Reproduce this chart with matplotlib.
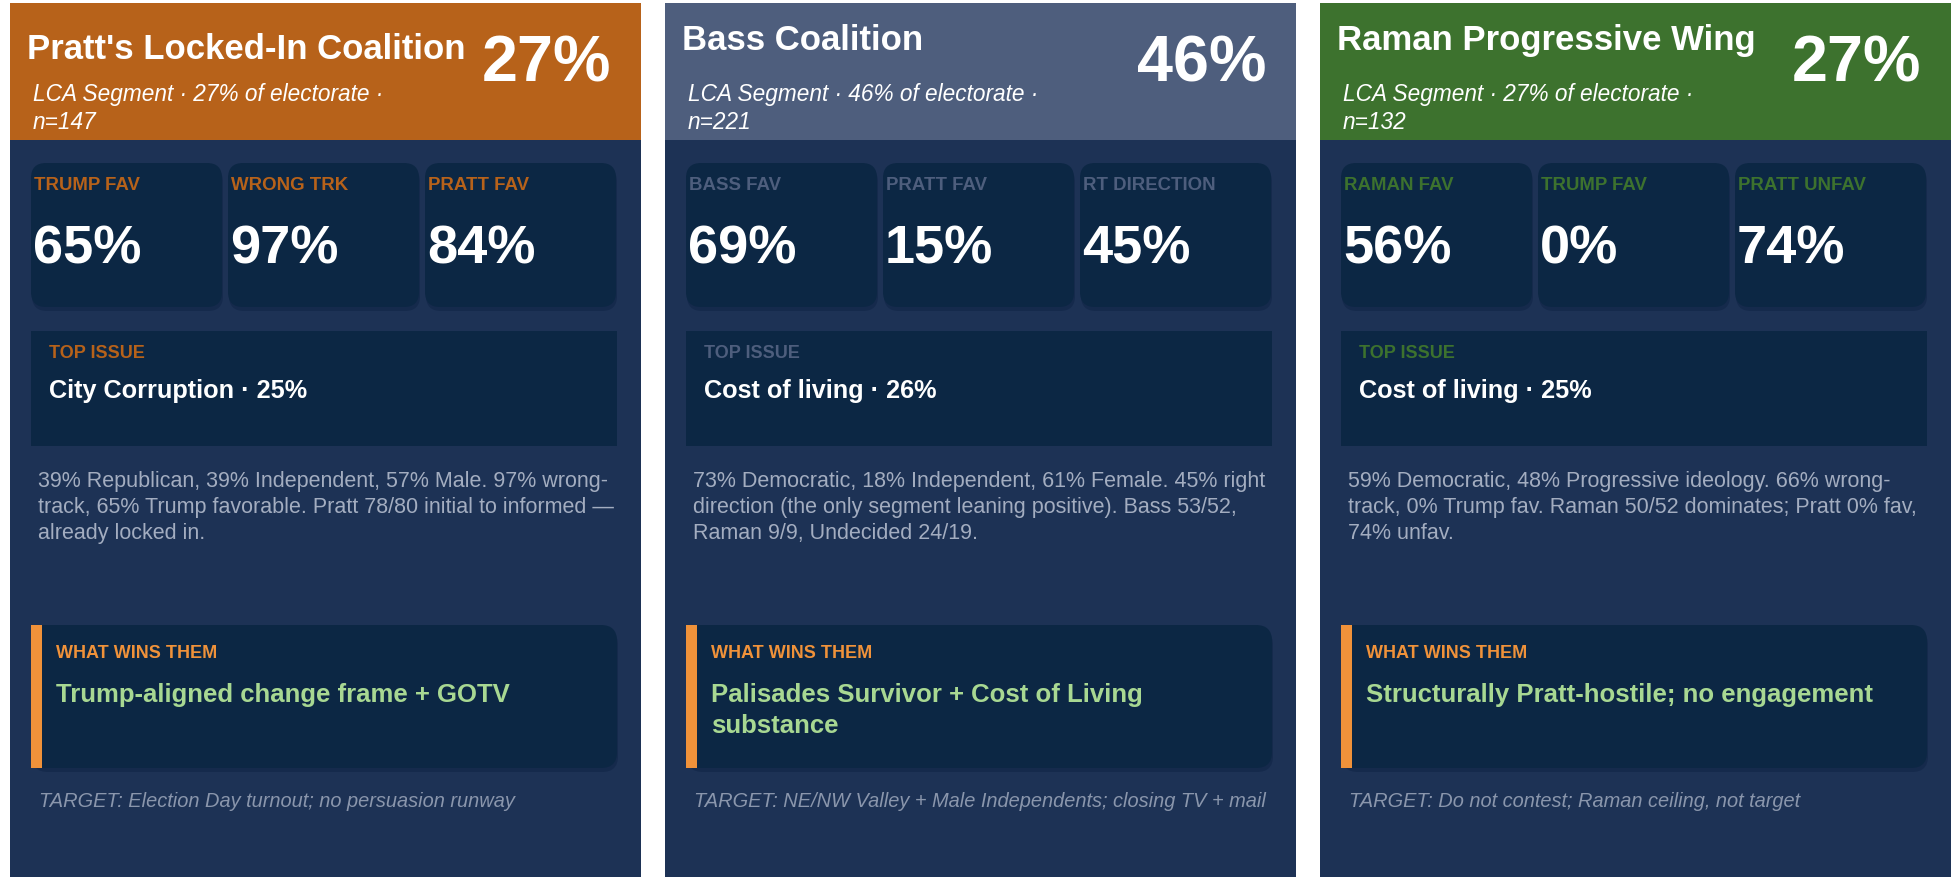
import matplotlib
matplotlib.use('Agg')
import matplotlib.pyplot as plt
from matplotlib.patches import Rectangle, FancyBboxPatch

plt.rcParams['font.family'] = ['Liberation Sans', 'DejaVu Sans']

# ---- data ----
titles = ["Pratt's Locked-In Coalition", "Bass Coalition", "Raman Progressive Wing"]
shares = [27, 46, 27]
sample_n = [147, 221, 132]
metric_labels = [
    ["TRUMP FAV", "WRONG TRK", "PRATT FAV"],
    ["BASS FAV", "PRATT FAV", "RT DIRECTION"],
    ["RAMAN FAV", "TRUMP FAV", "PRATT UNFAV"],
]
metric_values = [
    [65, 97, 84],
    [69, 15, 45],
    [56, 0, 74],
]
top_issues = ["City Corruption", "Cost of living", "Cost of living"]
top_issue_pcts = [25, 26, 25]
descriptions = [
    "39% Republican, 39% Independent, 57% Male. 97% wrong-\n"
    "track, 65% Trump favorable. Pratt 78/80 initial to informed \u2014\n"
    "already locked in.",
    "73% Democratic, 18% Independent, 61% Female. 45% right\n"
    "direction (the only segment leaning positive). Bass 53/52,\n"
    "Raman 9/9, Undecided 24/19.",
    "59% Democratic, 48% Progressive ideology. 66% wrong-\n"
    "track, 0% Trump fav. Raman 50/52 dominates; Pratt 0% fav,\n"
    "74% unfav.",
]
win_messages = [
    "Trump-aligned change frame + GOTV",
    "Palisades Survivor + Cost of Living\nsubstance",
    "Structurally Pratt-hostile; no engagement",
]
targets = [
    "TARGET: Election Day turnout; no persuasion runway",
    "TARGET: NE/NW Valley + Male Independents; closing TV + mail",
    "TARGET: Do not contest; Raman ceiling, not target",
]

# ---- style ----
header_colors = ['#b7621a', '#4e5e7d', '#3d722e']
body_color = '#1d3255'
box_color = '#0c2744'
shadow_color = '#13284a'
desc_color = '#a3adc0'
target_color = '#8a96ac'
accent = '#f0923a'
green_text = '#a8d892'
title_y = [59, 50, 50]

W, H = 1959, 877
card_x = [10, 665, 1320]
card_w = 631

fig = plt.figure(figsize=(W / 100, H / 100), dpi=100)
fig.patch.set_facecolor('white')
ax = fig.add_axes([0, 0, 1, 1])
ax.set_xlim(0, W)
ax.set_ylim(H, 0)
ax.axis('off')


def rbox(x, y, w, h, color, r=15, z=2, alpha=1.0):
    p = FancyBboxPatch((x, y), w, h, boxstyle=f"round,pad=0,rounding_size={r}",
                       fc=color, ec='none', zorder=z, alpha=alpha)
    ax.add_patch(p)


def lines(x, y, text, step, **kw):
    # one text per line so each baseline lands where we want it
    for k, ln in enumerate(text.split('\n')):
        ax.text(x, y + k * step, ln, va='baseline', ha='left', zorder=5, **kw)


for i, x0 in enumerate(card_x):
    hc = header_colors[i]
    # card body + header
    ax.add_patch(Rectangle((x0, 3), card_w, H - 3, fc=body_color, ec='none', zorder=1))
    ax.add_patch(Rectangle((x0, 3), card_w, 137, fc=hc, ec='none', zorder=1.5))

    ax.text(x0 + 17, title_y[i], titles[i], color='white', fontsize=25,
            fontweight='bold', va='baseline', ha='left', zorder=5)
    ax.text(x0 + card_w - 30, 82, f"{shares[i]}%", color='white', fontsize=46.5,
            fontweight='bold', va='baseline', ha='right', zorder=5)
    lines(x0 + 23, 101, f"LCA Segment \u00b7 {shares[i]}% of electorate \u00b7\nn={sample_n[i]}",
          28, color='white', fontsize=16.3, style='italic')

    # metric tiles
    for j in range(3):
        bx = x0 + 21 + j * 197
        rbox(bx + 1, 167, 191, 144, shadow_color, z=2, alpha=0.8)
        rbox(bx, 163, 191, 144, box_color, z=3)
        ax.text(bx + 3, 190, metric_labels[i][j], color=hc, fontsize=13.4,
                fontweight='bold', va='baseline', zorder=5)
        ax.text(bx + 2, 263, f"{metric_values[i][j]}%", color='white', fontsize=39,
                fontweight='bold', va='baseline', zorder=5)

    # top issue
    ax.add_patch(Rectangle((x0 + 21, 331), 586, 115, fc=box_color, ec='none', zorder=3))
    ax.text(x0 + 39, 358, "TOP ISSUE", color=hc, fontsize=13, fontweight='bold',
            va='baseline', zorder=5)
    ax.text(x0 + 39, 398, f"{top_issues[i]} \u00b7 {top_issue_pcts[i]}%", color='white',
            fontsize=18.2, fontweight='bold', va='baseline', zorder=5)

    # description
    lines(x0 + 28, 487, descriptions[i], 26, color=desc_color, fontsize=15.5)

    # what wins them
    rbox(x0 + 22, 629, 586, 143, shadow_color, r=16, z=2, alpha=0.8)
    rbox(x0 + 21, 625, 586, 143, box_color, r=16, z=3)
    ax.add_patch(Rectangle((x0 + 21, 625), 30, 143, fc=box_color, ec='none', zorder=3))
    ax.add_patch(Rectangle((x0 + 21, 625), 11, 143, fc=accent, ec='none', zorder=4))
    ax.text(x0 + 46, 658, "WHAT WINS THEM", color=accent, fontsize=13,
            fontweight='bold', va='baseline', zorder=5)
    lines(x0 + 46, 702, win_messages[i], 31, color=green_text, fontsize=18.5,
          fontweight='bold')

    # target
    ax.text(x0 + 29, 807, targets[i], color=target_color, fontsize=14.4,
            style='italic', va='baseline', zorder=5)

fig.savefig('out.png', dpi=100, facecolor=fig.get_facecolor())
